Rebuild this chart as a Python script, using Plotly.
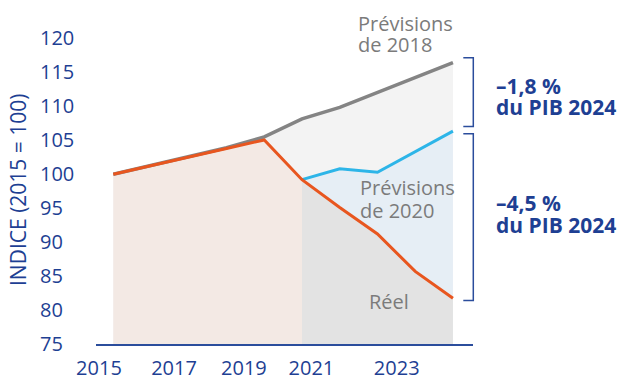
import plotly.graph_objects as go

# ---- data -------------------------------------------------------------
years = [2015, 2016, 2017, 2018, 2019, 2020, 2021, 2022, 2023, 2024]
reel = [100.0, 101.3, 102.5, 103.8, 105.05, 99.2, 95.1, 91.2, 85.7, 81.75]
prev_2018 = [100.0, 101.3, 102.5, 103.9, 105.5, 108.15, 109.85, 112.05, 114.25, 116.45]
years_2020 = [2020, 2021, 2022, 2023, 2024]
prev_2020 = [99.2, 100.8, 100.3, 103.35, 106.35]

x_tick_text = ["2015", "2017", "2019", "2021", "2023"]
x_tick_pos = [2014.62, 2016.61, 2018.46, 2020.25, 2022.51]
y_ticks = [75, 80, 85, 90, 95, 100, 105, 110, 115, 120]

gap_2018 = "\u20131,8\u00a0%"
gap_2020 = "\u20134,5\u00a0%"
pib_line = "du PIB 2024"

# ---- style ------------------------------------------------------------
W, H = 618, 379
ML, MR, MT, MB = 0, 145, 35, 35
PW = W - ML - MR
PH = H - MT - MB

NAVY = "#1e3f93"
GREY_TXT = "#7b7b7b"
ORANGE = "#e8561f"
GREY_LINE = "#848484"
BLUE = "#2db5e8"
FILL_PINK = "#f3e9e4"
FILL_LIGHT = "#f3f3f3"
FILL_BLUE = "#e6eef5"
FILL_GREY = "#e3e3e3"
FONT = "Open Sans"


def px(xp):
    return (xp - ML) / PW


def py(yp):
    return (H - MB - yp) / PH


x0 = 2015 - 17.3 / 37.74
x1 = x0 + (PW - 96) / 37.74

fig = go.Figure()

# filled areas
fig.add_trace(go.Scatter(x=years, y=prev_2018, mode="none", fill="tozeroy",
                         fillcolor=FILL_LIGHT, hoverinfo="skip"))
fig.add_trace(go.Scatter(x=years_2020, y=prev_2020, mode="none", fill="tozeroy",
                         fillcolor=FILL_BLUE, hoverinfo="skip"))
fig.add_trace(go.Scatter(x=years[:6], y=reel[:6], mode="none", fill="tozeroy",
                         fillcolor=FILL_PINK, hoverinfo="skip"))
fig.add_trace(go.Scatter(x=years[5:], y=reel[5:], mode="none", fill="tozeroy",
                         fillcolor=FILL_GREY, hoverinfo="skip"))

# lines
fig.add_trace(go.Scatter(x=years, y=prev_2018, mode="lines",
                         line=dict(color=GREY_LINE, width=3.5)))
fig.add_trace(go.Scatter(x=years_2020, y=prev_2020, mode="lines",
                         line=dict(color=BLUE, width=3)))
fig.add_trace(go.Scatter(x=years, y=reel, mode="lines",
                         line=dict(color=ORANGE, width=3)))

# gap brackets on the right
bx, tx = px(473.3), px(463.3)
brackets = [
    (prev_2018[-1] + 0.7, prev_2020[-1] + 0.7),
    (prev_2020[-1] - 0.4, reel[-1] - 0.35),
]
for top, bot in brackets:
    path = f"M {tx} {top} L {bx} {top} L {bx} {bot} L {tx} {bot}"
    fig.add_shape(type="path", path=path, xref="paper", yref="y",
                  line=dict(color="#2b4d9c", width=1.5))

# text
def label(text, xp, yp, color, size=20, bold=False, anchor="left"):
    fig.add_annotation(text=f"<b>{text}</b>" if bold else text,
                       x=px(xp), y=py(yp), xref="paper", yref="paper",
                       xanchor=anchor, yanchor="middle", showarrow=False,
                       font=dict(family=FONT, size=size, color=color))


label(gap_2018, 494, 85.7, NAVY, size=21, bold=True)
label(pib_line, 494, 106.7, NAVY, size=21, bold=True)
label(gap_2020, 494, 203, NAVY, size=21, bold=True)
label(pib_line, 494, 225, NAVY, size=21, bold=True)
label("Prévisions", 356, 23.3, GREY_TXT)
label("de 2018", 356, 45, GREY_TXT)
label("Prévisions", 358, 187.3, GREY_TXT)
label("de 2020", 358, 210, GREY_TXT)
label("Réel", 389, 301, GREY_TXT, anchor="center")

fig.add_annotation(text="INDICE (2015 = 100)", textangle=-90,
                   x=px(17.5), y=py(189.5), xref="paper", yref="paper",
                   xanchor="center", yanchor="middle", showarrow=False,
                   font=dict(family=FONT, size=21, color=NAVY))

fig.update_layout(
    width=W, height=H,
    margin=dict(l=ML, r=MR, t=MT, b=MB, autoexpand=False),
    paper_bgcolor="white", plot_bgcolor="white",
    showlegend=False,
    xaxis=dict(domain=[px(96), 1], range=[x0, x1],
               tickvals=x_tick_pos, ticktext=x_tick_text,
               showgrid=False, zeroline=False, ticks="",
               showline=True, linecolor="#2b4d9c", linewidth=1.5,
               ticklabelstandoff=5, automargin=False,
               tickfont=dict(family=FONT, size=20, color=NAVY)),
    yaxis=dict(range=[75, 75 + PH / 6.79], anchor="free", position=px(36),
               tickvals=y_ticks, ticklabelposition="inside",
               ticklabeloverflow="allow", automargin=False,
               showgrid=False, zeroline=False, ticks="", showline=False,
               tickfont=dict(family=FONT, size=20, color=NAVY)),
)

fig.write_html("out.html")
